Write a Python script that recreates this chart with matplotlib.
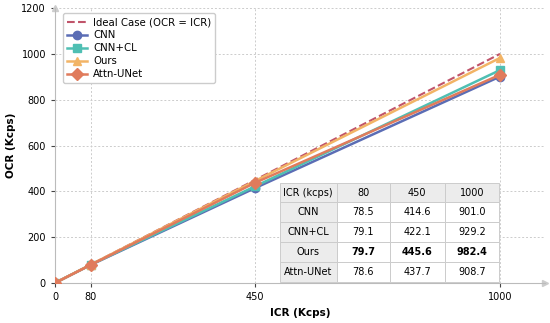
import matplotlib
matplotlib.use("Agg")
import matplotlib.pyplot as plt

# data
icr = [0, 80, 450, 1000]
series = {
    "CNN": [0, 78.5, 414.6, 901.0],
    "CNN+CL": [0, 79.1, 422.1, 929.2],
    "Ours": [0, 79.7, 445.6, 982.4],
    "Attn-UNet": [0, 78.6, 437.7, 908.7],
}
colors = {"CNN": "#5b6db5", "CNN+CL": "#4fbfb3", "Ours": "#f2b466", "Attn-UNet": "#e07b5c"}
markers = {"CNN": "o", "CNN+CL": "s", "Ours": "^", "Attn-UNet": "D"}
table_cols = ["ICR (kcps)", "80", "450", "1000"]

fig = plt.figure(figsize=(5.5, 3.23), dpi=100)
ax = fig.add_axes([0.1, 0.124, 0.89, 0.851])

ax.plot(icr, icr, "--", color="#c0546a", lw=1.5, label="Ideal Case (OCR = ICR)", zorder=3)
for name, vals in series.items():
    ax.plot(icr, vals, color=colors[name], marker=markers[name], markersize=6,
            lw=1.8, label=name, zorder=4)

ax.set_xlim(0, 1100)
ax.set_ylim(0, 1200)
ax.set_xticks(icr)
ax.set_yticks(range(0, 1201, 200))
ax.tick_params(labelsize=7, color="#444444", length=3)
ax.grid(True, ls=(0, (2, 2)), color="#cccccc", lw=0.7)
for s in ["top", "right"]:
    ax.spines[s].set_visible(False)
for s in ["left", "bottom"]:
    ax.spines[s].set_color("#bbbbbb")
ax.plot(1, 0, ">", color="#cccccc", ms=4, transform=ax.transAxes, clip_on=False)
ax.plot(0, 1, "^", color="#cccccc", ms=4, transform=ax.transAxes, clip_on=False)

ax.set_xlabel("ICR (Kcps)", fontsize=7.5, fontweight="bold")
ax.set_ylabel("OCR (Kcps)", fontsize=7.5, fontweight="bold")

ax.legend(loc="upper left", fontsize=7.3, frameon=True, framealpha=1,
          edgecolor="#cccccc", bbox_to_anchor=(0.005, 1.0), handlelength=2.0,
          borderpad=0.4, labelspacing=0.3, handletextpad=0.6)

rows = []
for name, vals in series.items():
    rows.append([name] + ["%.1f" % v for v in vals[1:]])
tab = ax.table(cellText=rows, colLabels=table_cols, cellLoc="center",
               bbox=[0.459, 0.005, 0.449, 0.36], zorder=5)
tab.auto_set_font_size(False)
tab.set_fontsize(7)
widths = [0.26, 0.24, 0.25, 0.25]
for (r, c), cell in tab.get_celld().items():
    cell.set_edgecolor("#cccccc")
    cell.set_linewidth(0.7)
    cell.set_width(0.449 * widths[c])
    if r == 0 or c == 0:
        cell.set_facecolor("#ececec")
    else:
        cell.set_facecolor("white")
    if r == 3 and c > 0:
        cell.get_text().set_fontweight("bold")

fig.savefig("out.png", dpi=100)
